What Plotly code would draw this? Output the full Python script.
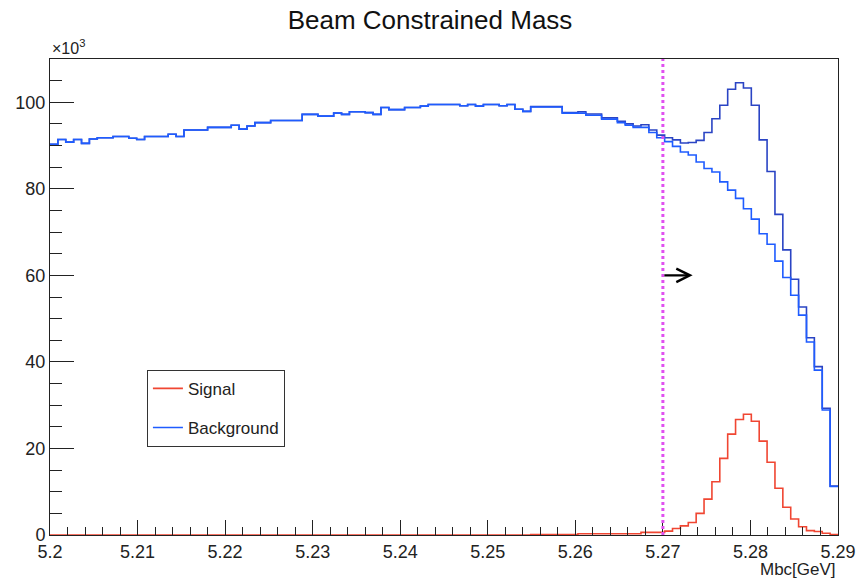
import numpy as np
import plotly.graph_objects as go

# ---------------- data (values in units of 10^3 entries per bin) ----------------
BIN_LO = 5.20
BIN_HI = 5.29
N_BINS = 100

background = [
    90.3, 91.4, 90.8, 91.4, 90.5, 91.5, 91.8, 91.8, 92.1, 92.1,
    91.7, 91.4, 92.1, 92.1, 92.1, 92.6, 92.1, 93.6, 93.6, 93.6,
    94.2, 94.2, 94.2, 94.7, 93.8, 94.5, 95.3, 95.3, 95.8, 95.8,
    95.8, 95.8, 97.2, 97.2, 96.8, 96.8, 97.5, 97.2, 97.8, 97.8,
    97.6, 97.2, 98.8, 98.3, 98.3, 98.8, 98.8, 99.1, 99.5, 99.5,
    99.5, 99.5, 99.2, 99.5, 99.1, 99.5, 99.5, 99.2, 99.5, 98.4,
    97.9, 98.9, 98.9, 98.9, 98.9, 97.5, 97.5, 97.5, 97.0, 97.0,
    96.1, 96.1, 95.3, 94.7, 94.2, 94.2, 93.0, 91.8, 90.9, 89.8,
    88.5, 87.8, 86.2, 84.7, 83.9, 81.6, 79.7, 77.8, 75.4, 73.0,
    69.6, 67.2, 63.3, 59.5, 55.4, 50.8, 44.6, 38.1, 28.9, 11.2,
]

signal = [
    0.0, 0.0, 0.0, 0.0, 0.0, 0.0, 0.0, 0.0, 0.0, 0.0,
    0.0, 0.0, 0.0, 0.0, 0.0, 0.0, 0.0, 0.0, 0.0, 0.0,
    0.0, 0.0, 0.0, 0.0, 0.0, 0.0, 0.0, 0.0, 0.0, 0.0,
    0.0, 0.0, 0.0, 0.0, 0.0, 0.0, 0.0, 0.0, 0.0, 0.0,
    0.0, 0.0, 0.0, 0.0, 0.0, 0.0, 0.0, 0.0, 0.0, 0.0,
    0.0, 0.0, 0.0, 0.0, 0.0, 0.0, 0.0, 0.0, 0.0, 0.0,
    0.0, 0.1, 0.1, 0.1, 0.1, 0.1, 0.1, 0.3, 0.3, 0.3,
    0.3, 0.3, 0.3, 0.3, 0.3, 0.6, 0.6, 0.6, 0.9, 1.5,
    2.1, 2.9, 5.0, 8.3, 12.3, 17.7, 23.3, 26.7, 27.9, 26.3,
    21.7, 16.8, 10.8, 6.4, 3.7, 1.9, 1.0, 0.8, 0.4, 0.1,
]

x_tick_vals = [5.20, 5.21, 5.22, 5.23, 5.24, 5.25, 5.26, 5.27, 5.28, 5.29]
x_tick_labels = ["5.2", "5.21", "5.22", "5.23", "5.24", "5.25", "5.26", "5.27", "5.28", "5.29"]
y_tick_vals = [0, 20, 40, 60, 80, 100]
y_tick_labels = ["0", "20", "40", "60", "80", "100"]

cut_value = 5.27
arrow_level = 60
arrow_end = 5.2734

# ---------------- derived ----------------
edges = np.linspace(BIN_LO, BIN_HI, N_BINS + 1)
bkg = np.array(background)
sig = np.array(signal)
total = bkg + sig  # stacked (signal + background)


def step_y(v):
    return list(v) + [v[-1]]


FONT = "Liberation Sans, Arial, Helvetica, sans-serif"
BLUE = "#1f5cff"
BLUE_DARK = "#2a44c4"
RED = "#f04632"

fig = go.Figure()

fig.add_trace(go.Scatter(
    x=edges, y=step_y(total), mode="lines", line_shape="hv",
    line=dict(color=BLUE_DARK, width=1.6), showlegend=False, hoverinfo="skip",
    legendgroup="t"))
fig.add_trace(go.Scatter(
    x=edges, y=step_y(bkg), mode="lines", line_shape="hv", name="Background",
    line=dict(color=BLUE, width=1.6), legendgroup="b", legendrank=2))
fig.add_trace(go.Scatter(
    x=edges, y=step_y(sig), mode="lines", line_shape="hv", name="Signal",
    line=dict(color=RED, width=1.6), legendgroup="s", legendrank=1))

# cut line
fig.add_shape(type="line", x0=cut_value, x1=cut_value, y0=0, y1=110,
              xref="x", yref="y", layer="above",
              line=dict(color="#e050f0", width=3, dash="dot"))

# arrow
fig.add_annotation(x=arrow_end, y=arrow_level, ax=cut_value, ay=arrow_level,
                   xref="x", yref="y", axref="x", ayref="y", text="",
                   showarrow=True, arrowhead=5, arrowsize=1.1, arrowwidth=2.4,
                   arrowcolor="black")

# x10^3 label
fig.add_annotation(x=0, y=1.0, xref="paper", yref="paper", xanchor="left", yanchor="bottom",
                   text="×10<sup>3</sup>", showarrow=False,
                   font=dict(family=FONT, size=16, color="#222"))
# x-axis title at right
fig.add_annotation(x=1.0, y=-0.048, xref="paper", yref="paper", xanchor="right", yanchor="top",
                   text="Mbc[GeV]", showarrow=False,
                   font=dict(family=FONT, size=17, color="#222"))

fig.update_layout(
    width=860, height=580,
    margin=dict(l=50, r=22, t=59, b=45, autoexpand=False),
    paper_bgcolor="white", plot_bgcolor="white",
    title=dict(text="Beam Constrained Mass", x=0.5, xref="container", xanchor="center",
               y=1 - 20 / 580, yref="container", yanchor="middle",
               font=dict(family=FONT, size=26, color="#111")),
    font=dict(family=FONT, size=17, color="#222"),
    legend=dict(x=0.123, y=0.347, xanchor="left", yanchor="top",
                bordercolor="#333", borderwidth=1, bgcolor="white",
                font=dict(family=FONT, size=17, color="#222"),
                tracegroupgap=14, traceorder="grouped", itemwidth=30),
    xaxis=dict(range=[BIN_LO, BIN_HI], showgrid=False, zeroline=False, automargin=False,
               showline=True, linecolor="#222", linewidth=1, mirror=True,
               ticks="inside", ticklen=15, tickcolor="#222",
               tickvals=x_tick_vals, ticktext=x_tick_labels,
               tickfont=dict(family=FONT, size=18, color="#222"),
               minor=dict(ticks="inside", ticklen=8, dtick=0.002, tickcolor="#222", showgrid=False)),
    yaxis=dict(range=[0, 110], showgrid=False, zeroline=False, automargin=False,
               showline=True, linecolor="#222", linewidth=1, mirror=True,
               ticks="inside", ticklen=24, tickcolor="#222",
               tickvals=y_tick_vals, ticktext=y_tick_labels,
               tickfont=dict(family=FONT, size=18, color="#222"),
               minor=dict(ticks="inside", ticklen=12, dtick=5, tickcolor="#222", showgrid=False)),
)

fig.write_html("out.html")
